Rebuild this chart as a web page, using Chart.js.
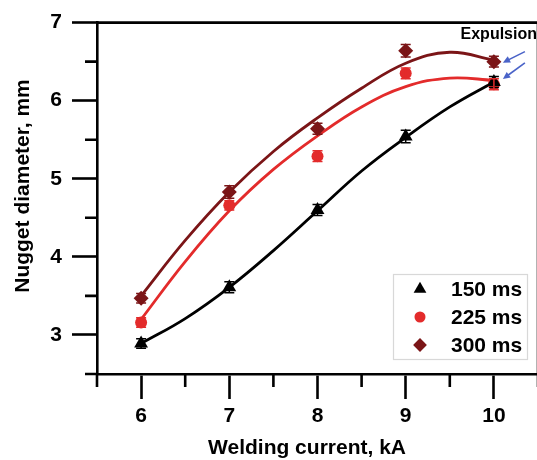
<!DOCTYPE html>
<html><head><meta charset="utf-8">
<script src="https://cdn.jsdelivr.net/npm/chart.js@4.4.1/dist/chart.umd.min.js"></script>
<style>
html,body{margin:0;padding:0;background:#fff;overflow:hidden;}
#wrap{position:relative;width:545px;height:460px;}
</style></head><body>
<div id="wrap"><canvas id="c" width="545" height="460"></canvas></div>
<script>
// ---- data ----
const currents = [6, 7, 8, 9, 10];
const d150 = [2.89, 3.61, 4.60, 5.54, 6.24];
const d225 = [3.16, 4.66, 5.29, 6.35, 6.21];
const d300 = [3.47, 4.83, 5.64, 6.64, 6.50];
const e150 = [0.06, 0.07, 0.07, 0.08, 0.07];
const e225 = [0.06, 0.06, 0.07, 0.07, 0.07];
const e300 = [0.06, 0.08, 0.07, 0.08, 0.07];
// fitted curves
const fitX = [6, 6.5, 7, 7.5, 8, 8.5, 9, 9.5, 10];
const fit150 = [2.89, 3.21, 3.61, 4.08, 4.59, 5.10, 5.53, 5.92, 6.24];
const fit225 = [3.20, 3.94, 4.59, 5.12, 5.55, 5.92, 6.18, 6.29, 6.26];
const fit300 = [3.50, 4.21, 4.83, 5.35, 5.78, 6.16, 6.48, 6.62, 6.52];
const xTicks = [6, 7, 8, 9, 10];
const yTicks = [3, 4, 5, 6, 7];
const xMinor = [5.5, 6.5, 7.5, 8.5, 9.5, 10.5];
const yMinor = [2.5, 3.5, 4.5, 5.5, 6.5];
const seriesNames = ['150 ms', '225 ms', '300 ms'];
const xTitle = 'Welding current, kA';
const yTitle = 'Nugget diameter, mm';
const noteText = 'Expulsion';

const FONT = '"Liberation Sans", Arial, sans-serif';
const BLACK = '#000000', RED = '#e32b2b', DARK = '#7b1517', ARROW = '#4a63c8';

const pts = (xs, ys) => xs.map((x, i) => ({x: x, y: ys[i]}));

const pointSets = [
  {label: seriesNames[0], data: pts(currents, d150), err: e150, color: BLACK, style: 'triangle', r: 8},
  {label: seriesNames[1], data: pts(currents, d225), err: e225, color: RED, style: 'circle', r: 6},
  {label: seriesNames[2], data: pts(currents, d300), err: e300, color: DARK, style: 'rectRot', r: 7.5}
];

const datasets = [];
pointSets.forEach((s, i) => {
  datasets.push({
    label: s.label, data: s.data, showLine: false,
    pointStyle: s.style, pointRadius: s.r, pointHoverRadius: s.r,
    backgroundColor: s.color, borderColor: s.color, borderWidth: 0,
    order: 0, errs: s.err, isPoints: true
  });
});
[[fit150, BLACK], [fit225, RED], [fit300, DARK]].forEach(([f, c]) => {
  datasets.push({
    label: 'fit', data: pts(fitX, f), showLine: true, pointRadius: 0,
    borderColor: c, borderWidth: 2.8, fill: false,
    tension: 0.4, order: 1
  });
});

function drawMarker(ctx, style, x, y, r, color) {
  ctx.save();
  ctx.fillStyle = color;
  ctx.beginPath();
  if (style === 'triangle') {
    for (let k = 0; k < 3; k++) {
      const a = k * 2 * Math.PI / 3;
      const px = x + Math.sin(a) * r, py = y - Math.cos(a) * r;
      k === 0 ? ctx.moveTo(px, py) : ctx.lineTo(px, py);
    }
    ctx.closePath();
  } else if (style === 'circle') {
    ctx.arc(x, y, r, 0, 2 * Math.PI);
  } else {
    ctx.moveTo(x - r, y); ctx.lineTo(x, y - r); ctx.lineTo(x + r, y); ctx.lineTo(x, y + r);
    ctx.closePath();
  }
  ctx.fill();
  ctx.restore();
}

const decor = {
  id: 'decor',
  afterDatasetsDraw(chart) {
    const ctx = chart.ctx, xs = chart.scales.x, ys = chart.scales.y;
    // error bars
    chart.data.datasets.forEach(ds => {
      if (!ds.isPoints) return;
      ctx.save();
      ctx.strokeStyle = ds.borderColor; ctx.lineWidth = 1.5;
      ds.data.forEach((p, i) => {
        const px = xs.getPixelForValue(p.x);
        const y1 = ys.getPixelForValue(p.y + ds.errs[i]);
        const y2 = ys.getPixelForValue(p.y - ds.errs[i]);
        ctx.beginPath();
        ctx.moveTo(px, y1); ctx.lineTo(px, y2);
        ctx.moveTo(px - 5, y1); ctx.lineTo(px + 5, y1);
        ctx.moveTo(px - 5, y2); ctx.lineTo(px + 5, y2);
        ctx.stroke();
      });
      ctx.restore();
    });
  },
  afterDraw(chart) {
    const ctx = chart.ctx, xs = chart.scales.x, ys = chart.scales.y, a = chart.chartArea;
    ctx.save();
    ctx.strokeStyle = '#000'; ctx.lineWidth = 2.6;
    // frame top & right
    ctx.beginPath();
    ctx.moveTo(a.left - 1, a.top); ctx.lineTo(a.right, a.top); ctx.lineTo(a.right, a.bottom);
    ctx.stroke();
    // minor ticks
    ctx.beginPath();
    xMinor.forEach(v => { const px = xs.getPixelForValue(v); ctx.moveTo(px, a.bottom); ctx.lineTo(px, a.bottom + 13); });
    yMinor.forEach(v => { const py = ys.getPixelForValue(v); ctx.moveTo(a.left - 12, py); ctx.lineTo(a.left, py); });
    ctx.stroke();
    // axis titles
    ctx.fillStyle = '#000';
    ctx.font = 'bold 21px ' + FONT;
    ctx.textAlign = 'center'; ctx.textBaseline = 'alphabetic';
    ctx.fillText(xTitle, 307, 454);
    ctx.save();
    ctx.translate(29, 186); ctx.rotate(-Math.PI / 2);
    ctx.fillText(yTitle, 0, 0);
    ctx.restore();
    // legend
    const lx = 393, ly = 274, lw = 134, lh = 85;
    ctx.fillStyle = '#fff'; ctx.fillRect(lx, ly, lw, lh);
    ctx.strokeStyle = '#d8d8d8'; ctx.lineWidth = 1.2;
    ctx.strokeRect(lx + 0.5, ly + 0.5, lw, lh);
    const rowsY = [289, 317, 345];
    pointSets.forEach((s, i) => {
      drawMarker(ctx, s.style, 420, rowsY[i], s.r * 0.92, s.color);
      ctx.fillStyle = '#000'; ctx.font = 'bold 21px ' + FONT;
      ctx.textAlign = 'left'; ctx.textBaseline = 'middle';
      ctx.fillText(s.label, 451, rowsY[i] + 1);
    });
    // expulsion note and arrows
    ctx.font = 'bold 16px ' + FONT; ctx.textAlign = 'right'; ctx.textBaseline = 'alphabetic';
    ctx.fillStyle = '#000';
    ctx.fillText(noteText, 537, 39);
    const arrow = (x1, y1, x2, y2) => {
      ctx.strokeStyle = ARROW; ctx.fillStyle = ARROW; ctx.lineWidth = 1.6;
      const ang = Math.atan2(y2 - y1, x2 - x1);
      ctx.beginPath(); ctx.moveTo(x1, y1);
      ctx.lineTo(x2 - Math.cos(ang) * 5, y2 - Math.sin(ang) * 5); ctx.stroke();
      ctx.beginPath(); ctx.moveTo(x2, y2);
      ctx.lineTo(x2 - Math.cos(ang - 0.45) * 8, y2 - Math.sin(ang - 0.45) * 8);
      ctx.lineTo(x2 - Math.cos(ang + 0.45) * 8, y2 - Math.sin(ang + 0.45) * 8);
      ctx.closePath(); ctx.fill();
    };
    const p300 = {x: xs.getPixelForValue(currents[4]), y: ys.getPixelForValue(d300[4])};
    const p150 = {x: xs.getPixelForValue(currents[4]), y: ys.getPixelForValue(d150[4])};
    arrow(p300.x + 31, p300.y - 10, p300.x + 9, p300.y + 1);
    arrow(p150.x + 31, p150.y - 19, p150.x + 9, p150.y - 3);
    ctx.restore();
  }
};

const tickFont = {family: FONT, size: 21, weight: 'bold'};
new Chart(document.getElementById('c'), {
  type: 'scatter',
  data: {datasets: datasets},
  options: {
    responsive: false, animation: false, devicePixelRatio: 1,
    layout: {padding: {left: 0, top: 20, right: 7, bottom: 0}, autoPadding: false},
    plugins: {legend: {display: false}, tooltip: {enabled: false}},
    scales: {
      x: {
        type: 'linear', min: 5.5, max: 10.5,
        afterBuildTicks: s => { s.ticks = xTicks.map(v => ({value: v})); },
        afterFit: s => { s.height = 86; },
        grid: {drawOnChartArea: false, drawTicks: true, tickLength: 25, tickWidth: 2.6, tickColor: '#000'},
        border: {display: true, color: '#000', width: 2.6},
        ticks: {color: '#000', font: tickFont, padding: 5, maxRotation: 0, autoSkip: false}
      },
      y: {
        type: 'linear', min: 2.5, max: 7,
        afterBuildTicks: s => { s.ticks = yTicks.map(v => ({value: v})); },
        afterFit: s => { s.width = 97; },
        grid: {drawOnChartArea: false, drawTicks: true, tickLength: 25, tickWidth: 2.6, tickColor: '#000'},
        border: {display: true, color: '#000', width: 2.6},
        ticks: {color: '#000', font: tickFont, padding: 10, autoSkip: false}
      }
    }
  },
  plugins: [decor]
});
</script>
</body></html>
